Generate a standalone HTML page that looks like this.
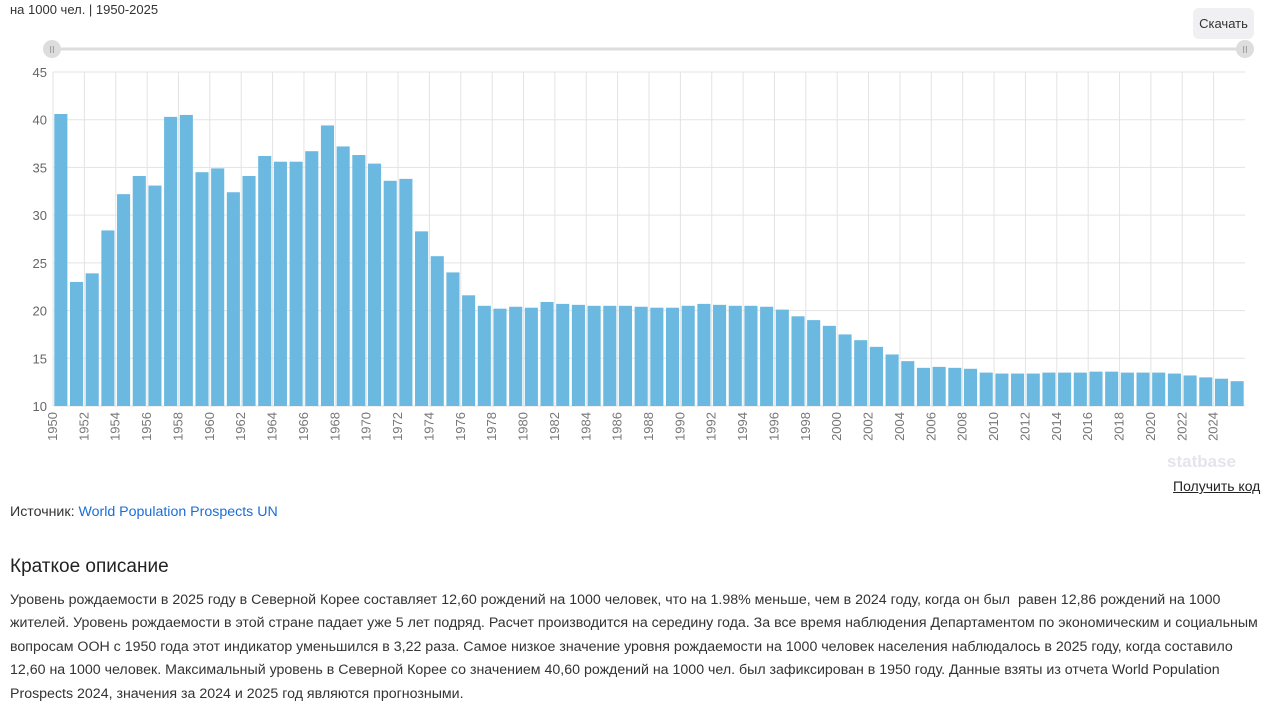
<!DOCTYPE html>
<html><head><meta charset="utf-8"><style>
body{margin:0;width:1280px;height:701px;background:#fff;font-family:"Liberation Sans","DejaVu Sans",sans-serif;overflow:hidden;position:relative}
.abs{position:absolute}
</style></head><body>
<div class="abs" style="left:10px;top:2px;font-size:13px;color:#333">на 1000 чел. | 1950-2025</div>
<div class="abs" style="left:1193px;top:8px;width:61px;height:31px;background:#f0f0f2;border-radius:6px;font-size:13px;color:#333;text-align:center;line-height:31px">Скачать</div>
<svg class="abs" style="left:0;top:0" width="1280" height="480" id="chart">
<line x1="52" y1="49" x2="1245" y2="49" stroke="#ddd" stroke-width="3"/>
<circle cx="52" cy="49" r="9" fill="#ddd"/>
<text x="52" y="53" font-size="10" fill="#999" text-anchor="middle">II</text>
<circle cx="1245" cy="49" r="9" fill="#ddd"/>
<text x="1245" y="53" font-size="10" fill="#999" text-anchor="middle">II</text>
<g id="grid"></g><g id="bars"></g><g id="labels"></g>
<text x="1236" y="467" font-size="17" font-weight="bold" fill="#e4e4ec" text-anchor="end">statbase</text>
</svg>
<div class="abs" style="left:1173px;top:478px;font-size:14px;color:#222;text-decoration:underline">Получить код</div>
<div class="abs" style="left:10px;top:504px;font-size:14.2px;color:#333">Источник: <span style="color:#1a6ed8">World Population Prospects UN</span></div>
<div class="abs" style="left:10px;top:556px;font-size:19px;color:#222">Краткое описание</div>
<div class="abs" style="left:10px;top:589px;width:1262px;font-size:14.2px;line-height:23.4px;color:#333">Уровень рождаемости в 2025 году в Северной Корее составляет 12,60 рождений на 1000 человек, что на 1.98% меньше, чем в 2024 году, когда он был&nbsp; равен 12,86 рождений на 1000 жителей. Уровень рождаемости в этой стране падает уже 5 лет подряд. Расчет производится на середину года. За все время наблюдения Департаментом по экономическим и социальным вопросам ООН с 1950 года этот индикатор уменьшился в 3,22 раза. Самое низкое значение уровня рождаемости на 1000 человек населения наблюдалось в 2025 году, когда составило 12,60 на 1000 человек. Максимальный уровень в Северной Корее со значением 40,60 рождений на 1000 чел. был зафиксирован в 1950 году. Данные взяты из отчета World Population Prospects 2024, значения за 2024 и 2025 год являются прогнозными.</div>
<script>
const years=[];for(let y=1950;y<=2025;y++)years.push(y);
const values=[40.6,23.0,23.9,28.4,32.2,34.1,33.1,40.3,40.5,34.5,34.9,32.4,34.1,36.2,35.6,35.6,36.7,39.4,37.2,36.3,35.4,33.6,33.8,28.3,25.7,24.0,21.6,20.5,20.2,20.4,20.3,20.9,20.7,20.6,20.5,20.5,20.5,20.4,20.3,20.3,20.5,20.7,20.6,20.5,20.5,20.4,20.1,19.4,19.0,18.4,17.5,16.9,16.2,15.4,14.7,14.0,14.1,14.0,13.9,13.5,13.4,13.4,13.4,13.5,13.5,13.5,13.6,13.6,13.5,13.5,13.5,13.4,13.2,13.0,12.86,12.6];
const yTicks=[10,15,20,25,30,35,40,45];
const L=53,R=1245,T=72,B=406,ymin=10,ymax=45;
const band=(R-L)/years.length;
const xs=i=>L+i*band;
const ys=v=>B-(v-ymin)/(ymax-ymin)*(B-T);
const NS='http://www.w3.org/2000/svg';
const grid=document.getElementById('grid'),bars=document.getElementById('bars'),labels=document.getElementById('labels');
function mk(tag,attrs,parent){const e=document.createElementNS(NS,tag);for(const k in attrs)e.setAttribute(k,attrs[k]);parent.appendChild(e);return e;}
yTicks.forEach(t=>{
 const l=mk('line',{x1:L,x2:R,y1:ys(t),y2:ys(t),stroke:'#e3e3e3'},grid);
 
 
 const tx=mk('text',{x:L-6,y:ys(t)+5,'font-size':13,fill:'#666','text-anchor':'end'},labels);
 tx.textContent=t;
 
 
});
years.forEach((y,i)=>{
 if(y%2===0){
  const x=xs(i);
  const g=mk('line',{x1:x,x2:x,y1:T,y2:B,stroke:'#e3e3e3'},grid);
  
  
  const tx=mk('text',{x:0,y:0,'font-size':13,fill:'#777','text-anchor':'end',transform:`translate(${x+4},${B+6}) rotate(-90)`},labels);
  tx.textContent=y;
  
  
 }
 const r=mk('rect',{x:xs(i)+1.3,y:ys(values[i]),width:band-2.6,height:B-ys(values[i]),fill:'#6bb9e0'},bars);
 
 
});
</script>
</body></html>
